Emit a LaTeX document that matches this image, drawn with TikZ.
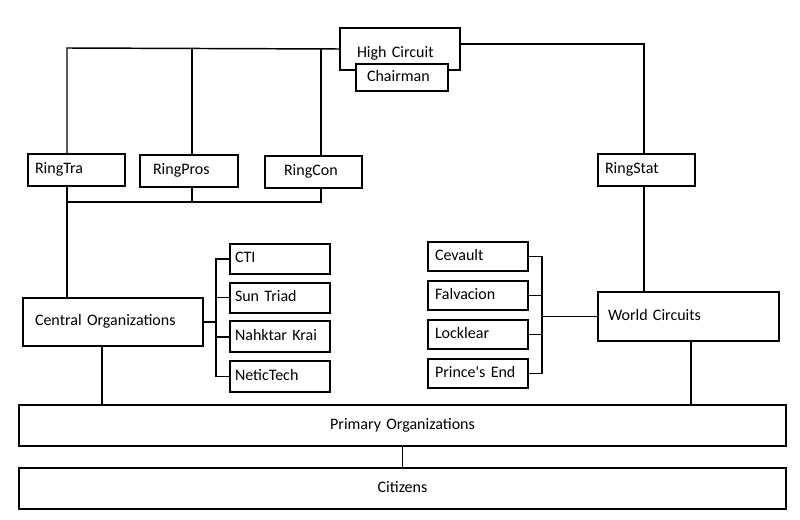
\documentclass[tikz,border=0pt]{standalone}
\usepackage{fontspec}
\setmainfont{Carlito}
\usetikzlibrary{positioning,calc}
\newlength{\px}
\setlength{\px}{0.75pt}
\tikzset{
  caixa/.style n args={3}{draw, fill=white, line width=1.5pt, anchor=north west,
    minimum width=#1\px, minimum height=#2\px, inner xsep=#3\px, inner ysep=0pt,
    text width={(#1-2*#3)*0.75pt}, align=left, font=\fontsize{12pt}{14pt}\selectfont,
    text height=1.5ex, text depth=.25ex},
  meio/.style={align=center},
  wire/.style={line width=1.1pt},
}

\begin{document}
\begin{tikzpicture}[x=0.75pt, y=-0.75pt]
  \useasboundingbox (0,0) rectangle (800,520);
  % circuitos
  \node[caixa={120}{42}{17}, text height=14pt] (high) at (339,27) {High Circuit};
  \node[caixa={92}{27}{11}] (chair) at (355,63) {Chairman};
  \node[caixa={97}{32}{7}] (tra) at (27,153) {RingTra};
  \node[caixa={98}{32}{13}] (pros) at (139,154) {RingPros};
  \node[caixa={97}{32}{19}] (con) at (264,155) {RingCon};
  \node[caixa={97}{32}{7}] (stat) at (597,153) {RingStat};
  \node[caixa={180}{48}{12}] (central) at (22,297) {Central Organizations};
  \node[caixa={181}{49}{10}] (world) at (597,291) {World Circuits};
  % organizacoes
  \node[caixa={100}{30}{5}] (cti) at (229,243) {CTI};
  \node[caixa={100}{30}{5}, below=5pt of cti] (sun) {Sun Triad};
  \node[caixa={100}{31}{5}, below=5pt of sun] (nah) {Nahktar Krai};
  \node[caixa={100}{31}{5}, below=5pt of nah] (netic) {NeticTech};
  \node[caixa={100}{29}{7}] (cev) at (427,241) {Cevault};
  \node[caixa={100}{29}{7}, below=6pt of cev] (falv) {Falvacion};
  \node[caixa={100}{29}{7}, below=6pt of falv] (lock) {Locklear};
  \node[caixa={100}{29}{7}, below=6pt of lock] (prince) {Prince\textquotesingle s End};
  \node[caixa={767}{41}{8}, meio] (prim) at (18,404) {Primary Organizations};
  \node[caixa={767}{41}{8}, meio] (cit) at (18,467) {Citizens};

  \coordinate (t1) at (67,48);
  \coordinate (t2) at (192,48);
  \coordinate (t3) at (321,48);
  \coordinate (t4) at (644,44);
  \draw[wire] (high.west) -- (t1) -- (t1 |- tra.north);
  \draw[wire] (t2) -- (t2 |- pros.north);
  \draw[wire] (t3) -- (t3 |- con.north);
  \draw[wire] (high.east |- t4) -- (t4) -- (t4 |- stat.north);
  \draw[wire] (t4 |- stat.south) -- (t4 |- world.north);

  \coordinate (b1) at (67,202);
  \coordinate (b2) at (192,202);
  \coordinate (b3) at (321,202);
  \draw[wire] (b1 |- tra.south) -- (b1) -- (b3) -- (b3 |- con.south);
  \draw[wire] (b2 |- pros.south) -- (b2);
  \draw[wire] (b1) -- (b1 |- central.north);

  \coordinate (s1) at (216,0);
  \coordinate (s2) at (542,0);
  \draw[wire] (central.east) -- (central.east -| s1);
  \draw[wire] (cti.west) -| (s1 |- netic.west) -- (netic.west);
  \foreach \n in {sun,nah}
    \draw[wire] (\n.west) -- (\n.west -| s1);
  \draw[wire] (world.west) -- (world.west -| s2);
  \draw[wire] (cev.east) -| (s2 |- prince.east) -- (prince.east);
  \foreach \n in {falv,lock}
    \draw[wire] (\n.east) -- (\n.east -| s2);

  \coordinate (d1) at (102,0);
  \coordinate (d2) at (691,0);
  \draw[wire] (d1 |- central.south) -- (d1 |- prim.north);
  \draw[wire] (d2 |- world.south) -- (d2 |- prim.north);
  \draw[wire] (prim.south) -- (cit.north);
\end{tikzpicture}
\end{document}
